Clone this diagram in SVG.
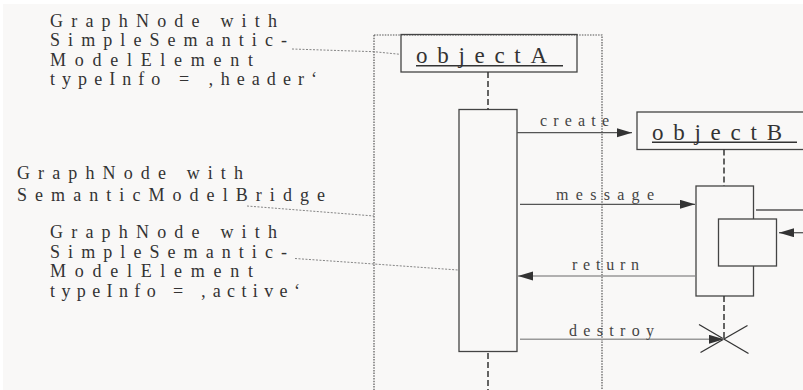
<svg xmlns="http://www.w3.org/2000/svg" width="803" height="390" viewBox="0 0 803 390">
<style>
  .bg { fill: #f9f8f7; }
  .note { font-family: "Liberation Serif", "Times New Roman", serif; font-size: 18px; fill: #333; }
  .lbl { font-family: "Liberation Serif", "Times New Roman", serif; font-size: 16px; fill: #444; }
  .obj { font-family: "Liberation Serif", "Times New Roman", serif; font-size: 23px; fill: #333; }
  .box { fill: none; stroke: #444; stroke-width: 1.3; }
  .life { stroke: #333; stroke-width: 1.5; stroke-dasharray: 6 3; fill: none; }
  .frame { fill: none; stroke: #555; stroke-width: 1.2; stroke-dasharray: 1.5 1.2; }
  .leader { fill: none; stroke: #777; stroke-width: 0.9; stroke-dasharray: 2 1.5; }
  .msg { stroke: #555; stroke-width: 1.3; fill: none; }
  .msg2 { stroke: #999; stroke-width: 1.6; fill: none; }
</style>
<defs>
  <marker id="ah" markerUnits="userSpaceOnUse" markerWidth="16" markerHeight="10" refX="15" refY="4.5" orient="auto">
    <path d="M0,0 L15,4.5 L0,9 Z" fill="#333"/>
  </marker>
</defs>
<rect class="bg" x="3" y="4" width="800" height="386"/>
<rect class="frame" x="374" y="35" width="228" height="356"/>

<g id="note-header">
  <text class="note" x="50" y="26.5" textLength="227" lengthAdjust="spacing">GraphNode with</text>
  <text class="note" x="50" y="46" textLength="237" lengthAdjust="spacing">SimpleSemantic-</text>
  <text class="note" x="50" y="65.5" textLength="203" lengthAdjust="spacing">ModelElement</text>
  <text class="note" x="50" y="85" textLength="267" lengthAdjust="spacing">typeInfo = ‚header‘</text>
</g>
<g id="note-bridge">
  <text class="note" x="17" y="178.5" textLength="226" lengthAdjust="spacing">GraphNode with</text>
  <text class="note" x="17" y="201" textLength="308" lengthAdjust="spacing">SemanticModelBridge</text>
</g>
<g id="note-active">
  <text class="note" x="50" y="238" textLength="227" lengthAdjust="spacing">GraphNode with</text>
  <text class="note" x="50" y="257.5" textLength="237" lengthAdjust="spacing">SimpleSemantic-</text>
  <text class="note" x="50" y="277" textLength="203" lengthAdjust="spacing">ModelElement</text>
  <text class="note" x="50" y="296.5" textLength="250" lengthAdjust="spacing">typeInfo = ‚active‘</text>
</g>

<g id="objectA">
  <rect class="box" x="401" y="34.5" width="176" height="37.5"/>
  <text class="obj" x="416" y="63" textLength="131" lengthAdjust="spacing">objectA</text>
  <line x1="416" y1="65.7" x2="563" y2="65.7" stroke="#333" stroke-width="1.4"/>
</g>
<g id="objectB">
  <rect class="box" x="637" y="112" width="180" height="37.5"/>
  <text class="obj" x="652" y="139.5" textLength="130" lengthAdjust="spacing">objectB</text>
  <line x1="652" y1="142.3" x2="797" y2="142.3" stroke="#333" stroke-width="1.4"/>
</g>
<g id="activationA">
  <rect class="box" x="459" y="109.5" width="58" height="242"/>
</g>
<g id="activationB">
  <rect class="box" x="696" y="186" width="57.5" height="110"/>
</g>
<g id="activationB2">
  <rect class="box" x="718.5" y="219" width="58" height="47" style="fill:#f9f8f7"/>
</g>
<g id="destructionB">
  <line x1="699" y1="324.5" x2="748.5" y2="353.5" stroke="#333" stroke-width="1.3"/>
  <line x1="747.5" y1="325.5" x2="700.5" y2="352.5" stroke="#333" stroke-width="1.3"/>
</g>

<g id="connectors">
  <line class="life" x1="488" y1="72" x2="488" y2="109.5"/>
  <line class="life" x1="488" y1="353" x2="488" y2="390"/>
  <line class="life" x1="724" y1="149.5" x2="724" y2="186"/>
  <line class="life" x1="724" y1="296" x2="724" y2="338"/>

  <path class="leader" d="M292,49 L374,51.7 L400,54.3"/>
  <path class="leader" d="M247,206 L374,216"/>
  <path class="leader" d="M295,258.5 L374,264 L458,270"/>

  <line class="msg" x1="517" y1="132.7" x2="632" y2="132.7" marker-end="url(#ah)"/>
  <text class="lbl" x="540" y="126" textLength="69" lengthAdjust="spacing">create</text>

  <line class="msg" x1="520" y1="204.3" x2="695" y2="204.3" marker-end="url(#ah)"/>
  <text class="lbl" x="556" y="200" textLength="98" lengthAdjust="spacing">message</text>

  <line class="msg2" x1="695" y1="276" x2="518" y2="276" marker-end="url(#ah)"/>
  <text class="lbl" x="572" y="270" textLength="67" lengthAdjust="spacing">return</text>

  <line class="msg2" x1="520" y1="339.3" x2="724" y2="339.3" marker-end="url(#ah)"/>
  <text class="lbl" x="569" y="336" textLength="85" lengthAdjust="spacing">destroy</text>

  <line class="msg" x1="756" y1="210" x2="803" y2="210"/>
  <line class="msg" x1="803" y1="232.7" x2="779" y2="232.7" marker-end="url(#ah)"/>
</g>
</svg>
